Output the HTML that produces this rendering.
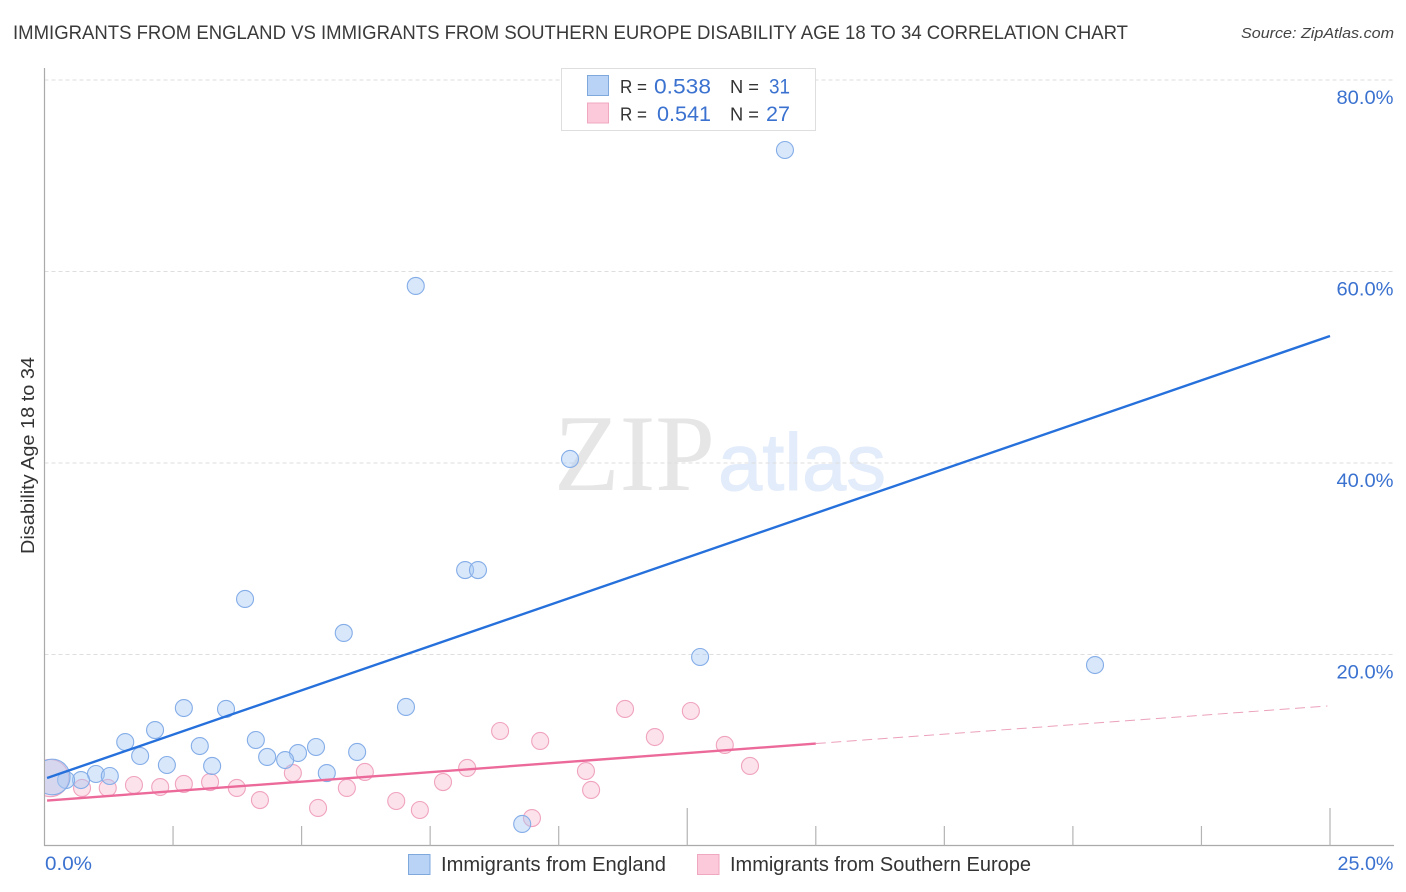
<!DOCTYPE html>
<html lang="en">
<head>
<meta charset="utf-8">
<title>Disability Age 18 to 34 Correlation Chart</title>
<style>
html,body{margin:0;padding:0;background:#fff;}
svg{display:block;font-family:"Liberation Sans",sans-serif;}
</style>
</head>
<body>
<svg id="chart" xmlns="http://www.w3.org/2000/svg" width="1406" height="892" viewBox="0 0 1406 892">
  <defs>
    <clipPath id="plot-clip"><rect x="45" y="60" width="1350" height="785"/></clipPath>
  </defs>
  <rect x="0" y="0" width="1406" height="892" fill="#ffffff"/>
  <text x="13" y="39" font-size="19.5" fill="#3a3a3a" textLength="1115" lengthAdjust="spacingAndGlyphs">IMMIGRANTS FROM ENGLAND VS IMMIGRANTS FROM SOUTHERN EUROPE DISABILITY AGE 18 TO 34 CORRELATION CHART</text>
  <text x="1241" y="38" font-size="15" font-style="italic" fill="#444444" textLength="153" lengthAdjust="spacingAndGlyphs">Source: ZipAtlas.com</text>
  <g id="watermark">
    <text x="554" y="490" style="font-family:'Liberation Serif',serif" font-size="109" fill="#e6e6e6" textLength="161" lengthAdjust="spacingAndGlyphs">ZIP</text>
    <text x="718" y="490" style="font-family:'Liberation Sans',sans-serif" font-size="81" fill="#e3ecfa" stroke="#e3ecfa" stroke-width="1" textLength="168" lengthAdjust="spacingAndGlyphs">atlas</text>
  </g>
  <g id="grid"></g>
  <g id="axes"></g>
  <g id="pink-points" clip-path="url(#plot-clip)"></g>
  <g id="blue-points" clip-path="url(#plot-clip)"></g>
  <g id="trends"></g>
  <text transform="translate(34 455.5) rotate(-90)" text-anchor="middle" font-size="18.5" fill="#333333" textLength="197" lengthAdjust="spacingAndGlyphs">Disability Age 18 to 34</text>

  <g>
    <rect x="561.5" y="68.5" width="254" height="62" fill="#ffffff" stroke="#dedede" stroke-width="1"/>
    <rect x="587.5" y="75.5" width="21" height="20" fill="#b8d3f6" stroke="#7fa9dd" stroke-width="1"/>
    <text x="620" y="93" font-size="18.5" fill="#333333" textLength="27" lengthAdjust="spacingAndGlyphs">R =</text>
    <text x="654" y="93.5" font-size="21" fill="#3b72d0" textLength="57" lengthAdjust="spacingAndGlyphs">0.538</text>
    <text x="730" y="93" font-size="18.5" fill="#333333" textLength="29" lengthAdjust="spacingAndGlyphs">N =</text>
    <text x="769" y="93.5" font-size="21" fill="#3b72d0" textLength="21" lengthAdjust="spacingAndGlyphs">31</text>
    <rect x="587.5" y="103" width="21" height="20" fill="#fcc9da" stroke="#f0a8c0" stroke-width="1"/>
    <text x="620" y="120.5" font-size="18.5" fill="#333333" textLength="27" lengthAdjust="spacingAndGlyphs">R =</text>
    <text x="657" y="121" font-size="21" fill="#3b72d0" textLength="54" lengthAdjust="spacingAndGlyphs">0.541</text>
    <text x="730" y="120.5" font-size="18.5" fill="#333333" textLength="29" lengthAdjust="spacingAndGlyphs">N =</text>
    <text x="766" y="121" font-size="21" fill="#3b72d0" textLength="24" lengthAdjust="spacingAndGlyphs">27</text>
  </g>

  <g>
    <rect x="408.5" y="854.5" width="21.5" height="20" fill="#b8d3f6" stroke="#7fa9dd" stroke-width="1"/>
    <text x="441" y="871" font-size="20" fill="#333333" textLength="225" lengthAdjust="spacingAndGlyphs">Immigrants from England</text>
    <rect x="697.5" y="854.5" width="21.5" height="20" fill="#fcc9da" stroke="#f0a8c0" stroke-width="1"/>
    <text x="730" y="871" font-size="20" fill="#333333" textLength="301" lengthAdjust="spacingAndGlyphs">Immigrants from Southern Europe</text>
  </g>
</svg>
<script>
var yTickValues = [20, 40, 60, 80];
var yTickLabels = ["20.0%", "40.0%", "60.0%", "80.0%"];
var xTickValues = [0, 2.5, 5, 7.5, 10, 12.5, 15, 17.5, 20, 22.5, 25];
var xEndLabels = ["0.0%", "25.0%"];
var englandX = [14.40, 7.22, 10.22, 8.18, 8.43, 3.90, 5.82, 12.75, 20.43, 2.71, 3.53, 7.03, 2.15, 1.57, 4.11, 3.02, 1.86, 5.28, 4.93, 6.08, 4.33, 4.68, 2.38, 3.26, 1.00, 1.27, 5.49, 0.71, 0.42, 9.29, 0.15];
var englandY = [72.69, 58.49, 40.42, 28.82, 28.82, 25.80, 22.25, 19.74, 18.90, 14.41, 14.31, 14.52, 12.11, 10.86, 11.07, 10.44, 9.40, 10.34, 9.71, 9.82, 9.30, 8.98, 8.46, 8.36, 7.52, 7.31, 7.62, 6.89, 6.89, 2.30, 7.21];
var englandWeight = [1, 1, 1, 1, 1, 1, 1, 1, 1, 1, 1, 1, 1, 1, 1, 1, 1, 1, 1, 1, 1, 1, 1, 1, 1, 1, 1, 1, 1, 1, 4.4];
var europeX = [11.29, 12.57, 8.86, 11.87, 9.64, 13.23, 13.72, 8.22, 10.53, 10.63, 7.75, 6.23, 4.83, 5.88, 6.84, 7.30, 5.32, 4.19, 3.74, 3.22, 2.71, 2.25, 1.74, 1.23, 0.73, 9.48, 0.11];
var europeY = [14.31, 14.10, 12.01, 11.38, 10.97, 10.55, 8.36, 8.15, 7.83, 5.85, 6.68, 7.73, 7.62, 6.06, 4.70, 3.76, 3.97, 4.80, 6.06, 6.68, 6.48, 6.16, 6.37, 6.06, 6.06, 2.92, 7.10];
var europeWeight = [1, 1, 1, 1, 1, 1, 1, 1, 1, 1, 1, 1, 1, 1, 1, 1, 1, 1, 1, 1, 1, 1, 1, 1, 1, 1, 4.8];
var englandTrendX = [0.05, 25];
var englandTrendY = [7.10, 53.26];
var europeTrendX = [0.05, 15];
var europeTrendY = [4.75, 10.70];
var europeExtensionX = [15, 24.95];
var europeExtensionY = [10.70, 14.62];

var NS = "http://www.w3.org/2000/svg";
function xScale(v) { return 44.5 + v * 51.42; }
function yScale(v) { return 846 - v * 9.575; }
function make(tag, parent, attrs) {
  var el = document.createElementNS(NS, tag);
  for (var k in attrs) { el.setAttribute(k, attrs[k]); }
  document.getElementById(parent).appendChild(el);
  return el;
}

yTickValues.forEach(function (v, i) {
  var line = make("line", "grid", {x1: 44.5, x2: 1394, y1: yScale(v), y2: yScale(v), stroke: "#dedede", "stroke-width": 1, "stroke-dasharray": "4 3"});
  
  
  var label = make("text", "axes", {x: 1393.5, y: yScale(v) + 24, "text-anchor": "end", "font-size": 19.5, fill: "#3b72d0", textLength: 57, lengthAdjust: "spacingAndGlyphs"});
  label.textContent = yTickLabels[i];
  
  
});

var yAxis = make("line", "axes", {x1: 44.5, x2: 44.5, y1: 68, y2: 846, stroke: "#aaaaaa", "stroke-width": 1.2});


var xAxis = make("line", "axes", {x1: 44, x2: 1394, y1: 845.5, y2: 845.5, stroke: "#aaaaaa", "stroke-width": 1.2});



xTickValues.forEach(function (v) {
  if (v === 0) { return; }
  var major = (v === 12.5 || v === 25);
  var tick = make("line", "axes", {x1: xScale(v), x2: xScale(v), y1: major ? 808 : 826, y2: 845.5, stroke: "#b4b4b4", "stroke-width": 1.2});
  
  
});

var xLabelStart = make("text", "axes", {x: 45, y: 870, "font-size": 19.5, fill: "#3b72d0", textLength: 47, lengthAdjust: "spacingAndGlyphs"});
xLabelStart.textContent = xEndLabels[0];


var xLabelEnd = make("text", "axes", {x: 1393.5, y: 870, "text-anchor": "end", "font-size": 19.5, fill: "#3b72d0", textLength: 56, lengthAdjust: "spacingAndGlyphs"});
xLabelEnd.textContent = xEndLabels[1];



europeX.forEach(function (v, i) {
  var dot = make("circle", "pink-points", {cx: xScale(v), cy: yScale(europeY[i]), r: 8.5 * Math.sqrt(europeWeight[i]), fill: "#f9b9cf", "fill-opacity": 0.42, stroke: "#f0a3bf", "stroke-width": 1.1});
  
  
});
englandX.forEach(function (v, i) {
  var dot = make("circle", "blue-points", {cx: xScale(v), cy: yScale(englandY[i]), r: 8.5 * Math.sqrt(englandWeight[i]), fill: "#a9c9f4", "fill-opacity": 0.45, stroke: "#84ade8", "stroke-width": 1.1});
  
  
});

var blueTrend = make("line", "trends", {x1: xScale(englandTrendX[0]), y1: yScale(englandTrendY[0]), x2: xScale(englandTrendX[1]), y2: yScale(englandTrendY[1]), stroke: "#2670dc", "stroke-width": 2.4});


var pinkTrend = make("line", "trends", {x1: xScale(europeTrendX[0]), y1: yScale(europeTrendY[0]), x2: xScale(europeTrendX[1]), y2: yScale(europeTrendY[1]), stroke: "#ec6a9a", "stroke-width": 2.4});


var pinkExtension = make("line", "trends", {x1: xScale(europeExtensionX[0]), y1: yScale(europeExtensionY[0]), x2: xScale(europeExtensionX[1]), y2: yScale(europeExtensionY[1]), stroke: "#e98fb0", "stroke-width": 1, "stroke-opacity": 0.85, "stroke-dasharray": "10 5.5"});


</script>
</body>
</html>
